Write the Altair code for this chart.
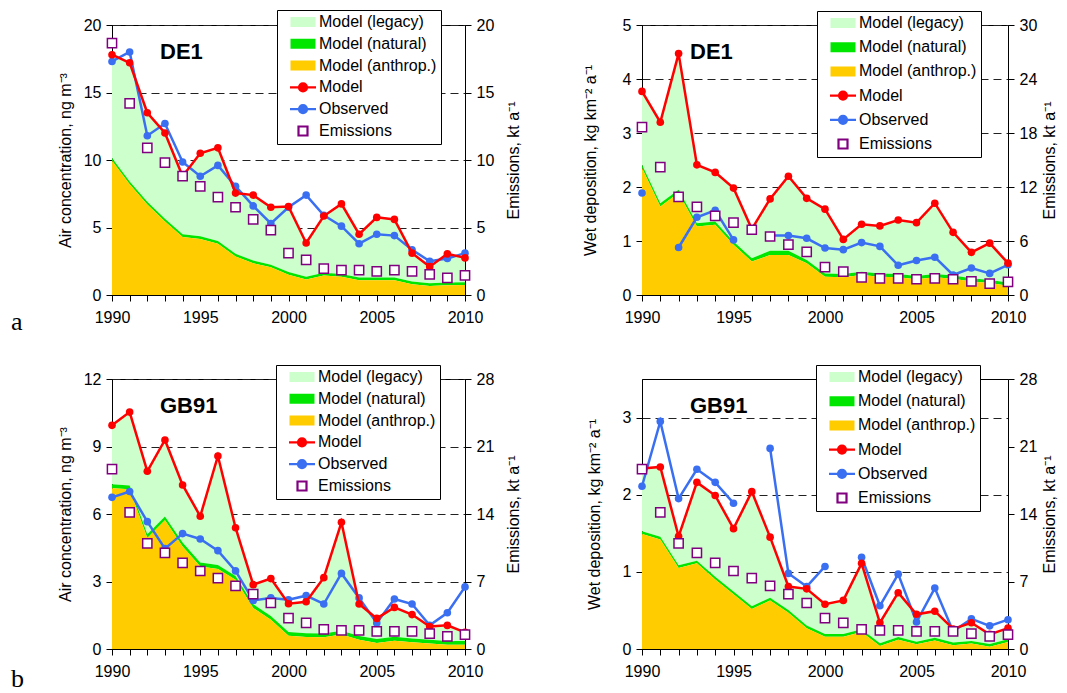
import altair as alt
import pandas as pd

YEARS = list(range(1990, 2011))

# ---- DE1, air concentration (ng m-3) ----
DE1_AIR_MODEL = [17.8, 17.2, 13.5, 12.0, 8.8, 10.5, 10.9, 7.55, 7.4, 6.5, 6.55,
                 3.85, 5.85, 6.75, 4.5, 5.75, 5.6, 3.1, 2.1, 3.05, 2.75]
DE1_AIR_OBS = [17.3, 18.0, 11.8, 12.7, 9.85, 8.8, 9.6, 8.05, 6.6, 5.3, 6.5,
               7.4, 5.9, 5.1, 3.8, 4.5, 4.4, 3.35, 2.5, 2.7, 3.1]
DE1_AIR_ANTH = [9.95, 8.2, 6.7, 5.45, 4.3, 4.15, 3.8, 2.85, 2.35, 2.05, 1.5,
                1.15, 1.45, 1.35, 1.1, 1.1, 1.1, 0.8, 0.67, 0.72, 0.75]
DE1_AIR_NAT = [0.2, 0.2, 0.2, 0.2, 0.2, 0.2, 0.2, 0.2, 0.2, 0.2, 0.2,
               0.2, 0.2, 0.2, 0.2, 0.2, 0.2, 0.2, 0.2, 0.2, 0.2]

# ---- DE1, wet deposition (kg km-2 a-1) ----
DE1_WET_MODEL = [3.77, 3.2, 4.47, 2.41, 2.27, 1.98, 1.22, 1.78, 2.2, 1.79, 1.59,
                 1.03, 1.31, 1.28, 1.39, 1.34, 1.70, 1.16, 0.79, 0.96, 0.59]
DE1_WET_OBS = [1.89, None, 0.88, 1.44, 1.57, 1.02, None, 1.10, 1.10, 1.05, 0.87,
               0.84, 0.97, 0.90, 0.55, 0.64, 0.70, 0.37, 0.50, 0.40, 0.56]
DE1_WET_ANTH = [2.35, 1.64, 1.89, 1.27, 1.30, 0.93, 0.62, 0.74, 0.74, 0.59, 0.34,
                0.33, 0.37, 0.34, 0.33, 0.29, 0.33, 0.30, 0.25, 0.22, 0.17]
DE1_WET_NAT = [0.06, 0.06, 0.06, 0.06, 0.06, 0.06, 0.06, 0.08, 0.08, 0.06, 0.06,
               0.06, 0.06, 0.06, 0.06, 0.06, 0.06, 0.06, 0.06, 0.06, 0.06]

DE1_EMIS = [18.65, 14.2, 10.9, 9.8, 8.8, 8.05, 7.25, 6.5, 5.6, 4.8, 3.1,
            2.6, 1.95, 1.85, 1.85, 1.75, 1.85, 1.75, 1.52, 1.27, 1.45]

# ---- GB91, air concentration ----
GB91_AIR_MODEL = [9.94, 10.53, 7.9, 9.29, 7.29, 5.9, 8.58, 5.39, 2.86, 3.13, 2.01,
                  2.10, 3.17, 5.63, 2.0, 1.36, 1.85, 1.53, 1.0, 1.05, 0.74]
GB91_AIR_OBS = [6.74, 7.0, 5.66, 4.46, 5.13, 4.89, 4.37, 3.47, 2.16, 2.27, 2.19,
                2.37, 2.0, 3.36, 2.27, 1.16, 2.22, 2.0, 1.05, 1.61, 2.76]
GB91_AIR_ANTH = [7.15, 7.1, 4.93, 5.72, 4.56, 3.67, 3.56, 3.08, 1.82, 1.30, 0.59,
                 0.53, 0.52, 0.64, 0.41, 0.27, 0.37, 0.30, 0.24, 0.19, 0.19]
GB91_AIR_NAT = [0.17, 0.17, 0.17, 0.17, 0.17, 0.17, 0.17, 0.17, 0.17, 0.17, 0.17,
                0.17, 0.17, 0.17, 0.17, 0.17, 0.17, 0.17, 0.17, 0.17, 0.17]

# ---- GB91, wet deposition ----
GB91_WET_MODEL = [2.34, 2.36, 1.46, 2.16, 1.99, 1.56, 2.04, 1.45, 0.81, 0.78, 0.58,
                  0.63, 1.11, 0.34, 0.73, 0.45, 0.49, 0.26, 0.34, 0.19, 0.27]
GB91_WET_OBS = [2.11, 2.95, 1.95, 2.33, 2.16, 1.89, None, 2.6, 0.98, 0.81, 1.07,
                None, 1.19, 0.56, 0.97, 0.35, 0.79, 0.23, 0.39, 0.30, 0.38]
GB91_WET_ANTH = [1.49, 1.42, 1.05, 1.11, 0.90, 0.71, 0.52, 0.63, 0.47, 0.27, 0.16,
                 0.16, 0.22, 0.04, 0.12, 0.06, 0.11, 0.05, 0.07, 0.03, 0.09]
GB91_WET_NAT = [0.035, 0.035, 0.035, 0.035, 0.035, 0.035, 0.035, 0.035, 0.035, 0.035, 0.035,
                0.035, 0.035, 0.035, 0.035, 0.035, 0.035, 0.035, 0.035, 0.035, 0.035]

GB91_EMIS = [18.66, 14.17, 10.96, 9.96, 8.93, 8.09, 7.36, 6.55, 5.7, 4.77, 3.2,
             2.7, 2.03, 1.94, 1.94, 1.83, 1.83, 1.83, 1.59, 1.31, 1.49]

SERIES = ["Model (legacy)", "Model (natural)", "Model (anthrop.)", "Model", "Observed", "Emissions"]

C_LEG = "#ccffcc"
C_NAT = "#00e600"
C_ANTH = "#ffcc00"
C_RED = "#ff0000"
C_BLUE = "#3a6ff2"
C_PURPLE = "#800080"
FILL_RANGE = [C_LEG, C_NAT, C_ANTH, C_RED, C_BLUE, "#ffffff"]
STROKE_RANGE = [C_LEG, C_NAT, C_ANTH, C_RED, C_BLUE, C_PURPLE]
RECT = "M-2.28,-0.78H2.28V0.78H-2.28Z"
LINEDOT = "M-2.6,0H2.6M-0.8,0A0.8,0.8,0,1,0,0.8,0A0.8,0.8,0,1,0,-0.8,0Z"
SQUARE = "M-0.9,-0.9H0.9V0.9H-0.9Z"
SHAPE_RANGE = [RECT, RECT, RECT, LINEDOT, LINEDOT, SQUARE]

FONT = "Liberation Sans"
H = 270


def panel(name, ytitle, ymax, yticks, emax, eticks, model, obs, anth, nat, emis,
          width, lx, ly, rowpad, ytitle_pad, etitle_pad, tag=None, tag_dy=0):
    seg, s = [], 0
    for v in obs:
        if v is None:
            s += 1
        seg.append(s)
    df = pd.DataFrame({"year": YEARS, "model": model, "obs": obs, "anth": anth,
                       "nat": nat, "emis": emis, "seg": seg})
    df["nat_top"] = df["anth"] + df["nat"]
    base = alt.Chart(df)

    x = alt.X("year:Q", scale=alt.Scale(domain=[1990, 2010], nice=False, zero=False),
              axis=alt.Axis(values=YEARS, format="d",
                            labelExpr="datum.value % 5 === 0 ? datum.label : ''",
                            title=None, labelFlush=False, labelOverlap=False,
                            grid=False, tickSize=6, labelPadding=8))
    yscale = alt.Scale(domain=[0, ymax], nice=False, zero=True)
    yaxis = alt.Axis(values=yticks, title=ytitle, grid=True, gridDash=[8, 5],
                     gridColor="#222222", gridWidth=1, tickSize=6, labelPadding=5,
                     titlePadding=ytitle_pad)

    def Y(f):
        return alt.Y(f + ":Q", scale=yscale, axis=yaxis)

    anth_area = base.mark_area(color=C_ANTH, opacity=1).encode(x=x, y=Y("anth"))
    nat_area = base.mark_area(color=C_NAT, opacity=1).encode(x=x, y=Y("nat_top"), y2=alt.Y2("anth"))
    leg_area = base.mark_area(color=C_LEG, opacity=1).encode(x=x, y=Y("model"), y2=alt.Y2("nat_top"))

    obs_base = base.transform_filter("isValid(datum.obs)")
    obs_line = obs_base.mark_line(color=C_BLUE, strokeWidth=2.5).encode(
        x=x, y=Y("obs"), detail="seg:N")
    obs_pts = obs_base.mark_point(filled=True, shape="circle", size=58, color=C_BLUE,
                                  opacity=1).encode(x=x, y=Y("obs"))
    mod_line = base.mark_line(color=C_RED, strokeWidth=2.5).encode(x=x, y=Y("model"))
    mod_pts = base.mark_point(filled=True, shape="circle", size=58, color=C_RED,
                              opacity=1).encode(x=x, y=Y("model"))

    label = alt.Chart(pd.DataFrame({"t": [name]})).mark_text(
        align="left", baseline="alphabetic", fontSize=22, fontWeight="bold",
        font=FONT, color="black").encode(text="t:N", x=alt.value(48), y=alt.value(34))

    leg = alt.Legend(orient="none", legendX=lx, legendY=ly, title=None, padding=4,
                     rowPadding=rowpad, symbolOffset=14, labelOffset=8,
                     symbolSize=100, symbolStrokeWidth=2.2, symbolOpacity=1,
                     labelFontSize=16, labelFont=FONT, labelColor="black",
                     fillColor="white", strokeColor="black", labelLimit=300)
    legend_df = pd.DataFrame({"series": SERIES})
    legend_layer = alt.Chart(legend_df).mark_point(filled=True, opacity=1).encode(
        fill=alt.Fill("series:N", scale=alt.Scale(domain=SERIES, range=FILL_RANGE), legend=leg),
        stroke=alt.Stroke("series:N", scale=alt.Scale(domain=SERIES, range=STROKE_RANGE), legend=leg),
        shape=alt.Shape("series:N", scale=alt.Scale(domain=SERIES, range=SHAPE_RANGE), legend=leg),
    ).transform_filter("false")

    layers = [leg_area, nat_area, anth_area, obs_line, obs_pts, mod_line, mod_pts,
              label, legend_layer]
    if tag:
        tag_mark = alt.Chart(pd.DataFrame({"t": [tag]})).mark_text(
            align="left", baseline="alphabetic", fontSize=26, font="Liberation Serif",
            color="black").encode(text="t:N", x=alt.value(-101), y=alt.value(H + tag_dy))
        layers.append(tag_mark)
    left = alt.layer(*layers)

    right = base.mark_point(shape="square", filled=True, fill="white", stroke=C_PURPLE,
                            strokeWidth=1.5, size=85, opacity=1).encode(
        x=x,
        y=alt.Y("emis:Q", scale=alt.Scale(domain=[0, emax], nice=False, zero=True),
                axis=alt.Axis(orient="right", values=eticks, title="Emissions, kt a⁻¹",
                              grid=False, tickSize=6, labelPadding=5, titlePadding=etitle_pad,
                              titleAngle=270, titleBaseline="top")))

    return alt.layer(left, right).resolve_scale(y="independent").properties(width=width, height=H)


p1 = panel("DE1", "Air concentration, ng m⁻³", 20, [0, 5, 10, 15, 20], 20, [0, 5, 10, 15, 20],
           DE1_AIR_MODEL, DE1_AIR_OBS, DE1_AIR_ANTH, DE1_AIR_NAT, DE1_EMIS,
           353, 165, -15, 3.8, 10, 12, tag="a", tag_dy=35)
p2 = panel("DE1", "Wet deposition, kg km⁻² a⁻¹", 5, [0, 1, 2, 3, 4, 5], 30, [0, 6, 12, 18, 24, 30],
           DE1_WET_MODEL, DE1_WET_OBS, DE1_WET_ANTH, DE1_WET_NAT, DE1_EMIS,
           366, 175, -14, 6.2, 24, 5)
p3 = panel("GB91", "Air concentration, ng m⁻³", 12, [0, 3, 6, 9, 12], 28, [0, 7, 14, 21, 28],
           GB91_AIR_MODEL, GB91_AIR_OBS, GB91_AIR_ANTH, GB91_AIR_NAT, GB91_EMIS,
           353, 164, -14, 3.8, 10, 12, tag="b", tag_dy=38)
p4 = panel("GB91", "Wet deposition, kg km⁻² a⁻¹", 3.5, [0, 1, 2, 3], 28, [0, 7, 14, 21, 28],
           GB91_WET_MODEL, GB91_WET_OBS, GB91_WET_ANTH, GB91_WET_NAT, GB91_EMIS,
           366, 174, -14, 6.2, 20, 5)

chart = alt.concat(p1, p2, p3, p4, columns=2, spacing={"row": 28, "column": 58}).resolve_scale(
    fill="independent", stroke="independent", shape="independent"
).resolve_legend(
    fill="independent", stroke="independent", shape="independent"
).properties(
    padding={"left": 2, "top": 1, "right": 0, "bottom": 0}
).configure_view(stroke="black", strokeWidth=1).configure_axis(
    domainColor="black", tickColor="black", labelColor="black", titleColor="black",
    labelFont=FONT, labelFontSize=16, titleFont=FONT, titleFontSize=16,
    titleFontWeight="normal", domainWidth=1, tickWidth=1
)

chart.save("out.html", embed_options={"renderer": "svg", "actions": False})
